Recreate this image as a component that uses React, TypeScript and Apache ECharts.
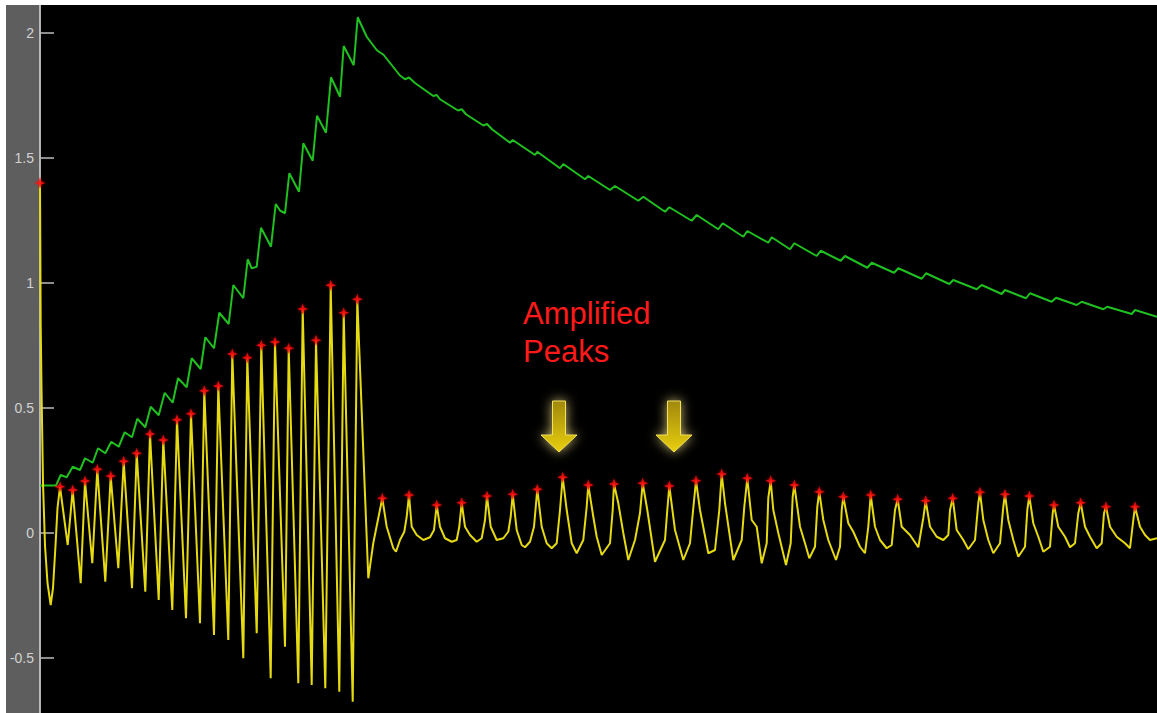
import React, { useEffect, useRef } from "react";
import * as echarts from "echarts";

// Time axis in samples; values in signal units.
// Detected peaks of the filtered signal (drawn as red stars and as line vertices).
const peaks: [number, number][] = [
  [0, 1.4],
  [20, 0.185], [32.7, 0.172], [45, 0.208], [57.3, 0.255], [70.7, 0.228], [83.7, 0.287],
  [96.7, 0.319], [110, 0.396], [123.3, 0.372], [137, 0.453], [151, 0.477], [164.3, 0.569],
  [178.3, 0.588], [192.3, 0.716], [207.3, 0.701], [221.3, 0.751], [235, 0.764], [248.7, 0.739],
  [262.7, 0.896], [276, 0.771], [290.7, 0.991], [303.7, 0.881], [317.3, 0.935],
  [342.3, 0.139], [369, 0.152], [396.7, 0.112], [421.7, 0.121], [447, 0.148], [472.7, 0.155],
  [497.3, 0.175], [522.7, 0.223], [548.3, 0.192], [574, 0.196], [602.7, 0.199], [629.3, 0.188],
  [656, 0.209], [681.7, 0.236], [707.3, 0.219], [730.7, 0.209], [754.3, 0.192], [779.3, 0.165],
  [803.3, 0.145], [830.7, 0.152], [857.7, 0.135], [885.7, 0.129], [912.7, 0.139], [940, 0.163],
  [965, 0.155], [989.3, 0.148], [1014, 0.112], [1040.7, 0.121], [1066, 0.105], [1095, 0.105],
];

// Initial transient of the signal.
const onsetSamples: [number, number][] = [
  [0.7, 0.83], [1.5, 0.58], [3, 0.2], [5, -0.05], [7.5, -0.2], [10.7, -0.288],
  [13, -0.22], [15.5, -0.05], [17.5, 0.1],
];

// Troughs of the large-amplitude stimulation phase.
const stimTroughs: [number, number][] = [
  [27.7, -0.048], [40.7, -0.201], [52.3, -0.121], [65.3, -0.195], [78.3, -0.141], [92, -0.221],
  [105.3, -0.235], [118.7, -0.268], [132.3, -0.308], [146, -0.341], [160, -0.361], [174, -0.408],
  [188.3, -0.428], [203.3, -0.501], [216.7, -0.401], [230.7, -0.581], [245, -0.455], [258.3, -0.601],
  [271.7, -0.608], [285.3, -0.621], [299.3, -0.635], [312.7, -0.675], [328.3, -0.181],
  [333.3, -0.04], [338.3, 0.06],
];

// Recovery phase: samples between the peaks.
const recoverySamples: [number, number][] = [
  [346.7, 0.025], [353.3, -0.061], [356, -0.075], [360, -0.028], [364.3, 0.005], [366.7, 0.065],
  [371.7, 0.025], [376.7, -0.008], [383.3, -0.028], [390, -0.017], [394, 0.012],
  [400, 0.025], [405, -0.021], [411.7, -0.035], [416.7, -0.028], [419.3, 0.025],
  [425, 0.025], [430, -0.008], [436.7, -0.035], [441.7, -0.021], [445, 0.052],
  [450.7, 0.025], [456.7, -0.028], [463.3, -0.021], [468.3, 0.005], [470.7, 0.065],
  [476.7, 0.012], [481.7, -0.048], [485, -0.057], [490, -0.035], [494, 0.025],
  [501.7, 0.025], [506.7, -0.041], [511.7, -0.061], [516.7, -0.041], [520, 0.092],
  [526.7, 0.092], [531.7, -0.041], [536.7, -0.081], [543.3, -0.028], [546.7, 0.105],
  [553.3, 0.065], [556.7, -0.015], [561.7, -0.088], [570, -0.041], [572.7, 0.092],
  [578.3, 0.119], [583.3, 0.0], [588.3, -0.108], [595, -0.028], [600, 0.08],
  [607.3, 0.092], [615, -0.115], [625, -0.028], [627.3, 0.092],
  [635, 0.012], [643.3, -0.108], [650, -0.041], [653.3, 0.1],
  [660, 0.092], [668.3, -0.081], [675, -0.068], [679.3, 0.092],
  [685, 0.119], [693.3, -0.108], [701.7, -0.028], [704.3, 0.105],
  [711.7, 0.052], [716.7, 0.025], [721.7, -0.121], [726.7, -0.041], [728.3, 0.14],
  [733.3, 0.092], [738.3, 0.0], [746, -0.128], [750.7, -0.041], [752.7, 0.145],
  [760, 0.025], [765, -0.041], [769.3, -0.101], [775, -0.055], [777.3, 0.105],
  [783.3, 0.052], [788.3, -0.028], [796, -0.108], [800, -0.055], [801.7, 0.092],
  [808.3, 0.039], [813.3, 0.005], [820, -0.055], [825, -0.081], [828.3, 0.025],
  [835, 0.025], [840, -0.028], [846.7, -0.061], [851.7, -0.048], [855, 0.092],
  [861.7, 0.025], [870, -0.008], [878.3, -0.057], [883.3, 0.06],
  [890, 0.025], [896.7, -0.015], [903.3, -0.028], [908.3, -0.008], [910, 0.092],
  [916.7, 0.012], [923.3, -0.028], [928.3, -0.065], [935, -0.028], [938.3, 0.119],
  [943.3, 0.052], [948.3, -0.028], [953.3, -0.081], [960, -0.041], [963.3, 0.105],
  [968.3, 0.052], [973.3, -0.028], [978.3, -0.095], [985, -0.055], [987.3, 0.092],
  [993.3, 0.039], [998.3, -0.015], [1003.3, -0.075], [1010, -0.055], [1012.7, 0.079],
  [1018.3, 0.025], [1025, -0.015], [1030, -0.057], [1035, -0.041], [1038.3, 0.079],
  [1045, 0.025], [1050, -0.015], [1056.7, -0.061], [1061.7, -0.041], [1064, 0.079],
  [1070, 0.025], [1076.7, -0.015], [1085, -0.041], [1090, -0.061], [1093.3, 0.052],
  [1100, 0.025], [1105, -0.008], [1110, -0.028], [1117, -0.021],
];

// Cumulative (integrated) response.
const cumulative: [number, number][] = [
  [0, 0.19], [16, 0.19], [20.7, 0.232], [26.7, 0.223], [32.7, 0.265], [40, 0.252], [45, 0.299],
  [52.7, 0.281], [58, 0.339], [65.3, 0.319], [71.3, 0.365], [78.7, 0.345], [84.7, 0.403],
  [92, 0.383], [97.3, 0.457], [105.3, 0.423], [110.7, 0.505], [118.7, 0.471], [124.7, 0.561],
  [132.7, 0.521], [138, 0.619], [146.7, 0.583], [151.7, 0.699], [160.7, 0.656], [165.3, 0.783],
  [174, 0.739], [179.3, 0.881], [188.7, 0.836], [193.3, 0.992], [203.3, 0.939], [207.7, 1.095],
  [211.7, 1.059], [216.7, 1.065], [221, 1.221], [231, 1.145], [235.7, 1.316], [240, 1.29],
  [245, 1.279], [249.3, 1.439], [259, 1.365], [263.3, 1.559], [272.7, 1.489], [277, 1.669],
  [286, 1.601], [291, 1.823], [300, 1.745], [303.7, 1.948], [313.7, 1.871], [317.7, 2.063],
  [326.7, 1.985], [336.7, 1.932], [340, 1.922], [343.3, 1.914], [360, 1.83], [365, 1.815],
  [369, 1.822], [375, 1.8], [393.3, 1.748], [396.7, 1.752], [400, 1.735], [418, 1.69],
  [421.7, 1.695], [426, 1.675], [443.3, 1.63], [447, 1.636], [452, 1.615], [470, 1.561],
  [472.7, 1.572], [495, 1.512], [497.3, 1.525], [520, 1.459], [523.3, 1.476], [545, 1.415],
  [548.3, 1.428], [570, 1.372], [575, 1.388], [598.3, 1.329], [603.3, 1.345], [625, 1.285],
  [629.3, 1.303], [651.7, 1.249], [656.7, 1.272], [678.3, 1.215], [682.7, 1.239], [703.3, 1.185],
  [707.3, 1.208], [728.3, 1.161], [731.7, 1.183], [750, 1.135], [754.3, 1.159], [776.7, 1.108],
  [780.7, 1.129], [800.7, 1.089], [805, 1.108], [827.3, 1.061], [831.7, 1.081], [854, 1.041],
  [858.3, 1.059], [881.7, 1.017], [886, 1.039], [909.3, 0.996], [913.3, 1.012], [936.7, 0.975],
  [941.7, 0.992], [961.7, 0.956], [965, 0.972], [986, 0.939], [990, 0.959], [1011.7, 0.925],
  [1016, 0.941], [1036.7, 0.912], [1041.7, 0.925], [1063.3, 0.895], [1067.3, 0.905],
  [1091.7, 0.876], [1095, 0.892], [1117, 0.865],
];

// Visible value range and labelled tick values of the y axis.
const yMin = -0.72;
const yMax = 2.132;
const yTicks = [-0.5, 0, 0.5, 1, 1.5, 2];
const annotation = "Amplified\nPeaks";

const STAR = "path://M50,0 L63,37 L100,50 L63,63 L50,100 L37,63 L0,50 L37,37 Z";

function arrowPoints(cx: number, top: number): number[][] {
  const shaftHalf = 6.5;
  const headHalf = 18;
  const headTop = top + 34;
  const tip = top + 51;
  return [
    [cx - shaftHalf, top],
    [cx + shaftHalf, top],
    [cx + shaftHalf, headTop],
    [cx + headHalf, headTop],
    [cx, tip],
    [cx - headHalf, headTop],
    [cx - shaftHalf, headTop],
  ];
}

function arrow(cx: number) {
  return {
    type: "polygon",
    z: 50,
    shape: { points: arrowPoints(cx, 401) },
    style: {
      fill: new echarts.graphic.LinearGradient(0, 0, 0, 1, [
        { offset: 0, color: "#a08812" },
        { offset: 1, color: "#e9cf06" },
      ]),
      stroke: "#f2e35a",
      lineWidth: 1,
      shadowBlur: 12,
      shadowColor: "rgba(235, 215, 130, 0.85)",
    },
  };
}

export default function App() {
  const ref = useRef<HTMLDivElement>(null);

  useEffect(() => {
    if (!ref.current) return;
    const chart = echarts.init(ref.current, null, { renderer: "svg" });
    const signal = [...peaks, ...onsetSamples, ...stimTroughs, ...recoverySamples].sort(
      (a, b) => a[0] - b[0]
    );

    chart.setOption({
      animation: false,
      backgroundColor: "#5e5e5e",
      grid: {
        left: 40,
        right: 0,
        top: 0,
        bottom: 0,
        show: true,
        backgroundColor: "#000000",
        borderWidth: 0,
      },
      xAxis: {
        type: "value",
        min: 0,
        max: 1117,
        show: false,
      },
      yAxis: {
        type: "value",
        min: yMin,
        max: yMax,
        axisLine: { show: true, lineStyle: { color: "#c6c6c6", width: 1.8 } },
        axisTick: {
          show: true,
          inside: true,
          length: 14,
          customValues: yTicks,
          lineStyle: { color: "#bdbdbd", width: 1.5 },
        },
        axisLabel: {
          color: "#d2d2d2",
          fontSize: 14,
          fontFamily: "'Liberation Sans', Arial, sans-serif",
          margin: 6,
          customValues: yTicks,
          formatter: (v: number) => String(v),
        },
        splitLine: { show: false },
      },
      series: [
        {
          name: "cumulative",
          type: "line",
          data: cumulative,
          showSymbol: false,
          lineStyle: { color: "#1fc01f", width: 2 },
          z: 2,
        },
        {
          name: "signal",
          type: "line",
          data: signal,
          showSymbol: false,
          lineStyle: { color: "#e6da12", width: 2 },
          z: 3,
        },
        {
          name: "peaks",
          type: "scatter",
          data: peaks,
          symbol: STAR,
          symbolSize: 11,
          itemStyle: { color: "#ff1212", shadowBlur: 3, shadowColor: "rgba(255,0,0,0.7)" },
          z: 5,
        },
      ],
      graphic: [
        { type: "rect", z: 100, shape: { x: 0, y: 0, width: 1157, height: 5 }, style: { fill: "#ffffff" } },
        { type: "rect", z: 100, shape: { x: 0, y: 0, width: 6, height: 713 }, style: { fill: "#ffffff" } },
        {
          type: "text",
          z: 60,
          x: 523,
          y: 294,
          style: {
            text: annotation,
            fill: "#ff1a1a",
            fontSize: 31,
            fontFamily: "'Liberation Sans', Arial, sans-serif",
            lineHeight: 38,
            verticalAlign: "top",
          },
        },
        arrow(559),
        arrow(674),
      ],
    });

    return () => chart.dispose();
  }, []);

  return (
    <div
      ref={ref}
      style={{ position: "fixed", left: 0, top: 0, width: 1157, height: 713 }}
    />
  );
}
